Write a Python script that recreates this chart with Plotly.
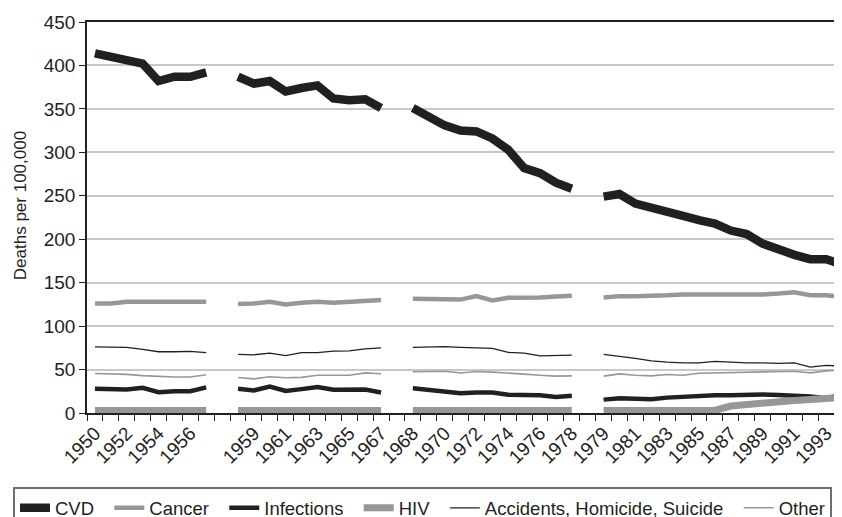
import plotly.graph_objects as go

# ---- categories (four reporting periods, separated by a blank slot) ----
period_1 = ["1950", "1951", "1952", "1953", "1954", "1955", "1956", "1957"]
period_2 = ["1958", "1959", "1960", "1961", "1962", "1963", "1964", "1965", "1966", "1967"]
period_3 = ["1968", "1969", "1970", "1971", "1972", "1973", "1974", "1975", "1976", "1977", "1978"]
period_4 = ["1979", "1980", "1981", "1982", "1983", "1984", "1985", "1986", "1987", "1988",
            "1989", "1990", "1991", "1992", "1993", "1994"]
periods = [period_1, period_2, period_3, period_4]
gap_names = [" ", "  ", "   "]

# ---- series values (deaths per 100,000), one value per year ----
cvd = [414, 410, 404, 402, 382, 387, 387, 392,
       387, 379, 382, 370, 374, 377, 362, 360, 361, 351,
       351, 340, 331, 325, 324, 316, 303, 282, 276, 265, 258,
       249, 252, 241, 237, 232, 227, 222, 218, 210, 206, 195, 188, 182, 177, 177, 171]
cancer = [126, 126, 128, 128, 128, 128, 128, 128,
          125.5, 126, 128, 125, 127, 128, 127, 128, 128.5, 130,
          131.5, 131.5, 131.5, 130.5, 134.5, 129.5, 132.5, 132.5, 133, 134, 135,
          133, 134.5, 134.5, 134.5, 135.5, 136.5, 136.5, 136.5, 136, 137, 136.5, 137.5, 139, 135.5, 135.5, 134]
infections = [28, 28, 27, 29, 24, 25, 25, 29.5,
              28, 26, 30.5, 25.3, 27.5, 30, 26.7, 27, 27, 23.5,
              28.5, 26.6, 24.7, 22.8, 23.5, 23.5, 21, 20.4, 20.4, 18.5, 19.9,
              15.4, 16.9, 16.5, 15.8, 17.7, 18.9, 20, 20.4, 20.4, 21.2, 21.2, 20.8, 20.4, 18.9, 16.9, 20.8]
hiv = [3, 3, 3, 3, 3, 3, 3, 3,
       3, 3, 3, 3, 3, 3, 3, 3, 3, 3,
       3, 3, 3, 3, 3, 3, 3, 3, 3, 3, 3,
       3, 3, 3, 3, 3, 3, 3, 3, 8, 10, 11.5, 13, 14.5, 15.5, 16.5, 18]
accidents = [76, 76, 75.5, 73.2, 70.5, 70.5, 71, 69.4,
             67.4, 67, 68.8, 66, 69.4, 69.4, 71.2, 71.5, 73.9, 74.9,
             75.5, 76.3, 76.3, 75.5, 75, 74.3, 69.7, 69, 65.8, 65.8, 66.6,
             67.4, 65.5, 62.8, 60.1, 58.5, 57.8, 57.8, 59.3, 58.5, 57.8, 57.8, 57, 57.8, 52.8, 54.7, 54]
other = [45.5, 45, 44.5, 43, 42, 41.5, 41.5, 44,
         40.8, 39.3, 41.7, 40.5, 41, 43.5, 43.5, 43.5, 46.2, 45.2,
         47.4, 47.4, 48.1, 46, 47.8, 47, 46.2, 44.7, 43.5, 42.4, 42.7,
         42.4, 45, 43.5, 42.7, 44.3, 43.5, 45.8, 46.2, 46.6, 47.4, 47.8, 48.1, 48.1, 46.2, 48.5, 49.3]

# ---- build category axis with blank separators ----
categories = []
for k, p in enumerate(periods):
    categories += p
    if k < len(gap_names):
        categories.append(gap_names[k])


def with_gaps(values):
    out, i = [], 0
    for k, p in enumerate(periods):
        out += values[i:i + len(p)]
        i += len(p)
        if k < len(gap_names):
            out.append(None)
    return out


BLACK = "#231f20"
GREY = "#959799"
FONT = "Liberation Sans, Arial, sans-serif"
PAD = "\u00a0\u00a0"

series = [
    ("CVD", cvd, BLACK, 8.5),
    ("Cancer", cancer, GREY, 4.5),
    ("Infections", infections, BLACK, 4.5),
    ("HIV", hiv, GREY, 7),
    ("Accidents, Homicide, Suicide", accidents, BLACK, 1.3),
    ("Other", other, GREY, 1.6),
]

fig = go.Figure()
for i, (name, vals, color, width) in enumerate(series):
    fig.add_trace(go.Scatter(
        x=categories, y=with_gaps(vals), mode="lines",
        name=name + (PAD if i < len(series) - 1 else ""),
        line=dict(color=color, width=width), connectgaps=False,
        hoverinfo="skip",
    ))

ticktext = [c if i % 2 == 0 else "" for i, c in enumerate(categories)]

fig.update_xaxes(
    type="category", categoryorder="array", categoryarray=categories,
    tickmode="array", tickvals=categories, ticktext=ticktext,
    tickson="boundaries", ticks="outside", ticklen=6, tickwidth=1.2, tickcolor=BLACK,
    tickangle=-45, tickfont=dict(size=19, color=BLACK, family=FONT),
    showline=True, linecolor=BLACK, linewidth=1.5, mirror=True,
    showgrid=False, range=[-0.5, 47.5], fixedrange=True, automargin=False,
)
fig.update_yaxes(
    range=[0, 450], tickmode="linear", tick0=0, dtick=50,
    ticks="outside", ticklen=6, tickwidth=1.2, tickcolor=BLACK,
    tickfont=dict(size=19, color=BLACK, family=FONT),
    showline=True, linecolor=BLACK, linewidth=1.5, automargin=False,
    showgrid=True, gridcolor="#c8c8c8", gridwidth=1.5, zeroline=False,
)

fig.add_annotation(
    text="Deaths per 100,000", textangle=-90, showarrow=False,
    xref="paper", yref="paper", x=-0.0878, y=0.529, xanchor="center", yanchor="middle",
    font=dict(size=17, color=BLACK, family=FONT),
)

fig.update_layout(
    width=842, height=517,
    margin=dict(l=79, r=0, t=14, b=112, autoexpand=False),
    paper_bgcolor="white", plot_bgcolor="white",
    font=dict(family=FONT, color=BLACK),
    showlegend=True,
    legend=dict(
        orientation="h", x=-0.097, y=-0.190, xanchor="left", yanchor="top",
        bordercolor="#6d6e71", borderwidth=2, bgcolor="white",
        font=dict(size=18.5, color=BLACK, family=FONT),
        tracegroupgap=0,
    ),
)

fig.write_html("out.html")
